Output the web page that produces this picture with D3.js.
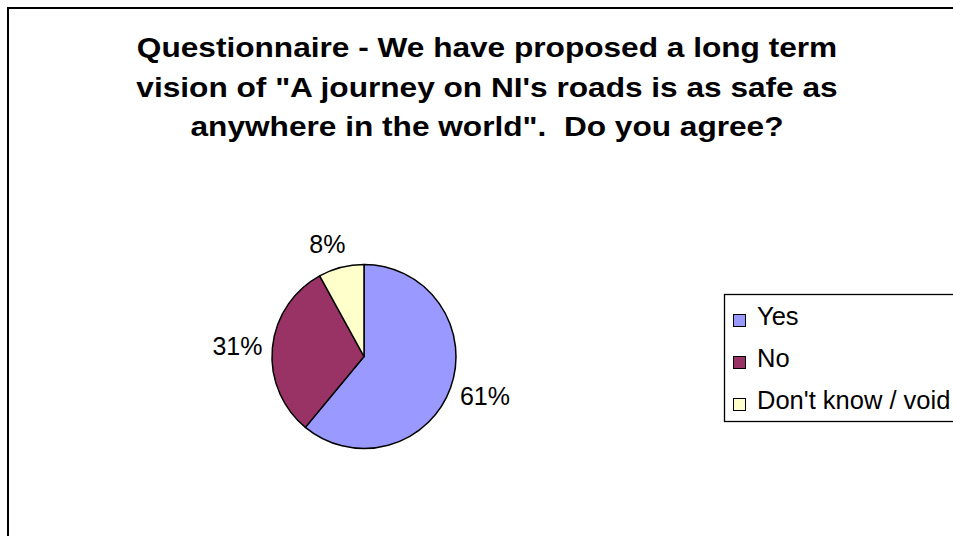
<!DOCTYPE html>
<html>
<head>
<meta charset="utf-8">
<script src="https://d3js.org/d3.v7.min.js"></script>
<style>
body { margin: 0; background: #fff; }
svg { font-family: "Liberation Sans", Arial, sans-serif; }
.title { font-weight: bold; font-size: 27.5px; white-space: pre; }
.label { font-size: 25px; }
.legend text { font-size: 25.5px; }
</style>
</head>
<body>
<svg id="chart"></svg>

<script>
var width = 953;
var height = 536;

// data
var categories = ["Yes", "No", "Don't know / void"];
var values = [61, 31, 8];
var colors = ["#9999FF", "#993366", "#FFFFCC"];
var titleLines = [
    "Questionnaire - We have proposed a long term",
    "vision of \"A journey on NI's roads is as safe as",
    "anywhere in the world\".  Do you agree?"
];

var svg = d3.select("#chart")
    .attr("width", width)
    .attr("height", height);

// outer chart border (runs off the right/bottom edge)
svg.append("rect")
    .attr("x", 8).attr("y", 8)
    .attr("width", 970).attr("height", 560)
    .attr("fill", "#fff")
    .attr("stroke", "#000")
    .attr("stroke-width", 2);

// title, a bit wider than plain Arial bold
svg.selectAll(".title")
    .data(titleLines)
    .enter().append("text")
    .attr("class", "title")
    .attr("text-anchor", "middle")
    .attr("transform", function(d, i) { return "translate(487," + (57 + i * 39.7) + ") scale(1.15,1)"; })
    .text(function(d) { return d; });

// pie
var cx = 364, cy = 356.5, r = 92;
var total = d3.sum(values);

var pie = d3.pie().sort(null).value(function(d) { return d; });
var arcs = pie(values);
var arc = d3.arc().innerRadius(0).outerRadius(r);

var g = svg.append("g").attr("transform", "translate(" + cx + "," + cy + ")");

g.selectAll("path")
    .data(arcs)
    .enter().append("path")
    .attr("d", arc)
    .attr("fill", function(d, i) { return colors[i]; })
    .attr("stroke", "#000")
    .attr("stroke-width", 1.5)
    .attr("stroke-linejoin", "round");

// percentage labels outside the slices
var labelR = 102;
g.selectAll(".label")
    .data(arcs)
    .enter().append("text")
    .attr("class", "label")
    .attr("text-anchor", "middle")
    .text(function(d) { return Math.round(d.value / total * 100) + "%"; })
    .each(function(d) {
        var a = (d.startAngle + d.endAngle) / 2;
        var sx = Math.sin(a), sy = -Math.cos(a);
        var box = this.getBBox();
        // push small top labels further sideways, like Excel does
        var kx = Math.max(-1, Math.min(1, sx * 2.5));
        var x = labelR * sx + kx * box.width / 2;
        var y = labelR * sy + sy * box.height / 2;
        d3.select(this).attr("x", x).attr("y", y + 9);
    });

// legend
var legend = svg.append("g").attr("class", "legend");

legend.append("rect")
    .attr("x", 724.5).attr("y", 294.5)
    .attr("width", 260).attr("height", 127)
    .attr("fill", "#fff")
    .attr("stroke", "#000")
    .attr("stroke-width", 1.3);

var item = legend.selectAll(".item")
    .data(categories)
    .enter().append("g")
    .attr("class", "item")
    .attr("transform", function(d, i) { return "translate(733," + (314 + i * 42) + ")"; });

item.append("rect")
    .attr("x", 0.5).attr("y", 0.5)
    .attr("width", 12).attr("height", 12)
    .attr("fill", function(d, i) { return colors[i]; })
    .attr("stroke", "#000")
    .attr("stroke-width", 1);

item.append("text")
    .attr("x", 24)
    .attr("y", 10.5)
    .text(function(d) { return d; });
</script>
</body>
</html>
